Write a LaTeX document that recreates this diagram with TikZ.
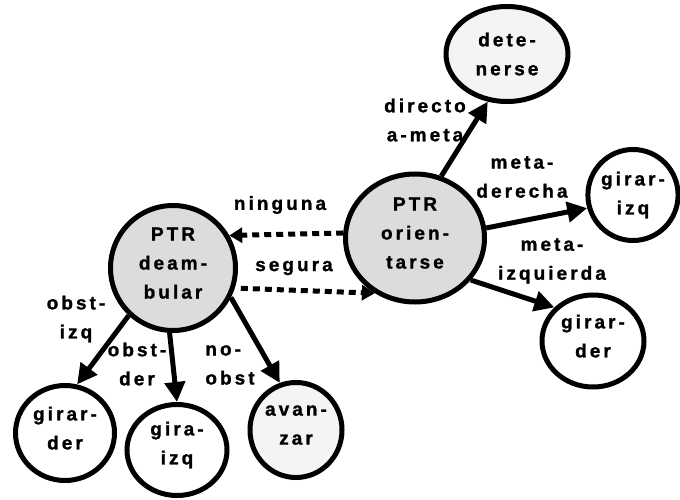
\documentclass[tikz,border=0pt]{standalone}
\usepackage{fontspec}
\newfontfamily\spacedsans[LetterSpace=16,FakeBold=1.2]{Liberation Sans Bold}
\usetikzlibrary{arrows.meta,shapes.geometric}

\definecolor{ptrgray}{HTML}{DCDCDC}
\definecolor{softgray}{HTML}{F4F4F4}

\begin{document}
\begin{tikzpicture}[x=1pt,y=-1pt,>={Triangle[length=20pt,width=20pt]},
  every node/.style={font=\spacedsans\fontsize{19}{29}\selectfont,align=center,inner sep=0pt},
  beh/.style={ellipse,draw,line width=5pt,fill=white},
  ptr/.style={beh,fill=ptrgray,text depth=10pt},
  dasharrow/.style={line width=5pt,dash pattern=on 7pt off 5pt,-{Triangle[length=13pt,width=15pt]}}]
  \useasboundingbox (0,0) rectangle (680,500);

  % behaviours
  \node[ptr,minimum width=125pt,minimum height=125pt] (deam) at (173,268) {PTR\\deam-\\bular};
  \node[ptr,minimum width=139pt,minimum height=128pt] (orien) at (415,238) {PTR\\orien-\\tarse};
  \node[beh,fill=softgray,minimum width=122pt,minimum height=95pt] (deten) at (507,54) {dete-\\nerse};
  \node[beh,minimum width=84pt,minimum height=91pt] (gizqR) at (633,195) {girar-\\izq};
  \node[beh,text depth=10pt,minimum width=102pt,minimum height=92pt] (gderR) at (593,341) {girar-\\der};
  \node[beh,text depth=10pt,minimum width=99pt,minimum height=95pt] (gderL) at (65,433) {girar-\\der};
  \node[beh,text depth=14pt,minimum width=100pt,minimum height=91pt] (gizqB) at (177,450) {gira-\\izq};
  \node[beh,fill=softgray,text depth=10pt,minimum width=92pt,minimum height=95pt] (avanz) at (296,430) {avan-\\zar};

  % conditions
  \node (lNing) at (280,205) {ninguna};
  \node (lSeg) at (294,268) {segura};
  \node (lDir) at (425,120) {directo\\a-meta};
  \node (lDer) at (522,177) {meta-\\derecha};
  \node (lIzq) at (552,261) {meta-\\izquierda};
  \node (lObI) at (76,319) {obst-\\izq};
  \node (lObD) at (137,364) {obst-\\der};
  \node[align=left] (lNoOb) at (230,365) {no-\\obst};

  \path[->,line width=5pt]
  (orien.67) edge (deten.248)
  (orien.8) edge (gizqR.196)
  (orien.-37) edge (gderR.139)
  (deam.227) edge (gderL.76)
  (deam.267) edge (gizqB.90)
  (deam.-27) edge (avanz.109)
  ;
  \draw[dasharrow] (orien.176) -- (deam.30);
  \draw[dasharrow,shorten <=6pt] (deam.-18) -- (orien.234);
\end{tikzpicture}
\end{document}
